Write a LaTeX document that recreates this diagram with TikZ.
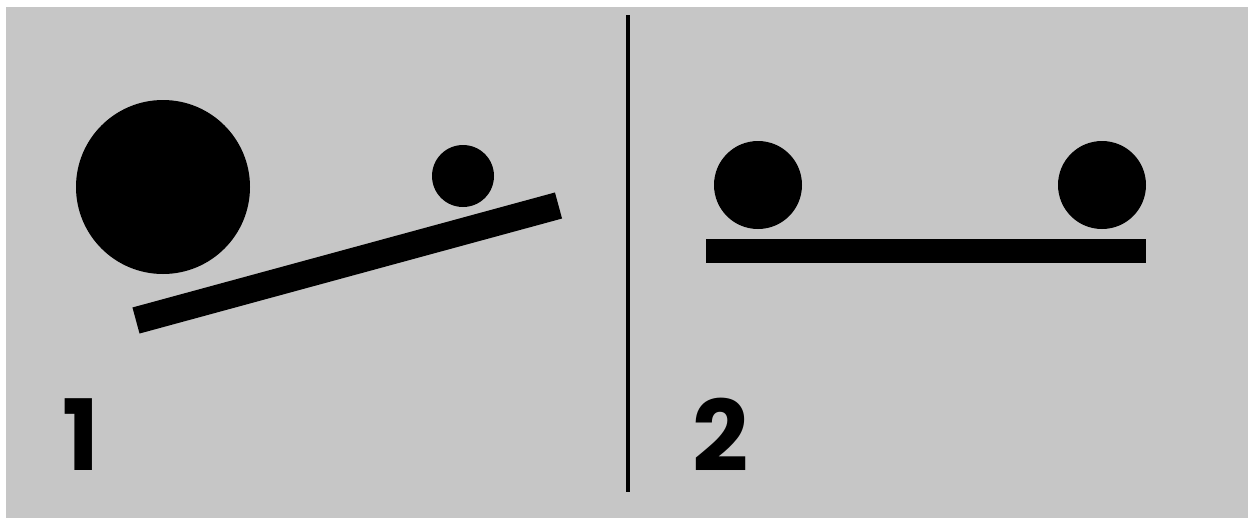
\documentclass[tikz,border=0pt]{standalone}
\usepackage{fontspec}
\newfontfamily\digitfont{Poppins}
\usetikzlibrary{positioning}
\definecolor{panelgray}{RGB}{198, 198, 198}

\begin{document}
\begin{tikzpicture}[
  x=0.02cm, y=-0.02cm,
  ball/.style={fill=black},
  plank/.style={draw=black, line width=0.54cm, line cap=butt},
  divider/.style={draw=black, line width=0.08cm},
  digit/.style={font=\digitfont\bfseries\fontsize{56}{60}\selectfont, inner sep=0pt, anchor=center}
]
  \useasboundingbox (0,0) rectangle (1248,518);
  \fill[panelgray] (6,7) rectangle (1248,518);

  % Panel 1: tilted plank
  \fill[ball] (163,187) circle (87);
  \fill[ball] (463,176) circle (31);
  \coordinate (plankA) at (136,320.5);
  \coordinate (plankB) at (558.5,205.5);
  \draw[plank] (plankA) -- (plankB);
  \node[digit] (one) at (81,434.5) {1};

  % Divider
  \coordinate (divTop) at (628,15);
  \coordinate (divBot) at (628,492);
  \draw[divider] (divTop) -- (divBot);

  % Panel 2: level plank
  \fill[ball] (758,185) circle (44);
  \fill[ball] (1102,185) circle (44);
  \fill[black] (706,239) rectangle (1146,263);
  \node[digit] (two) at (720.5,434.5) {2};
\end{tikzpicture}
\end{document}
